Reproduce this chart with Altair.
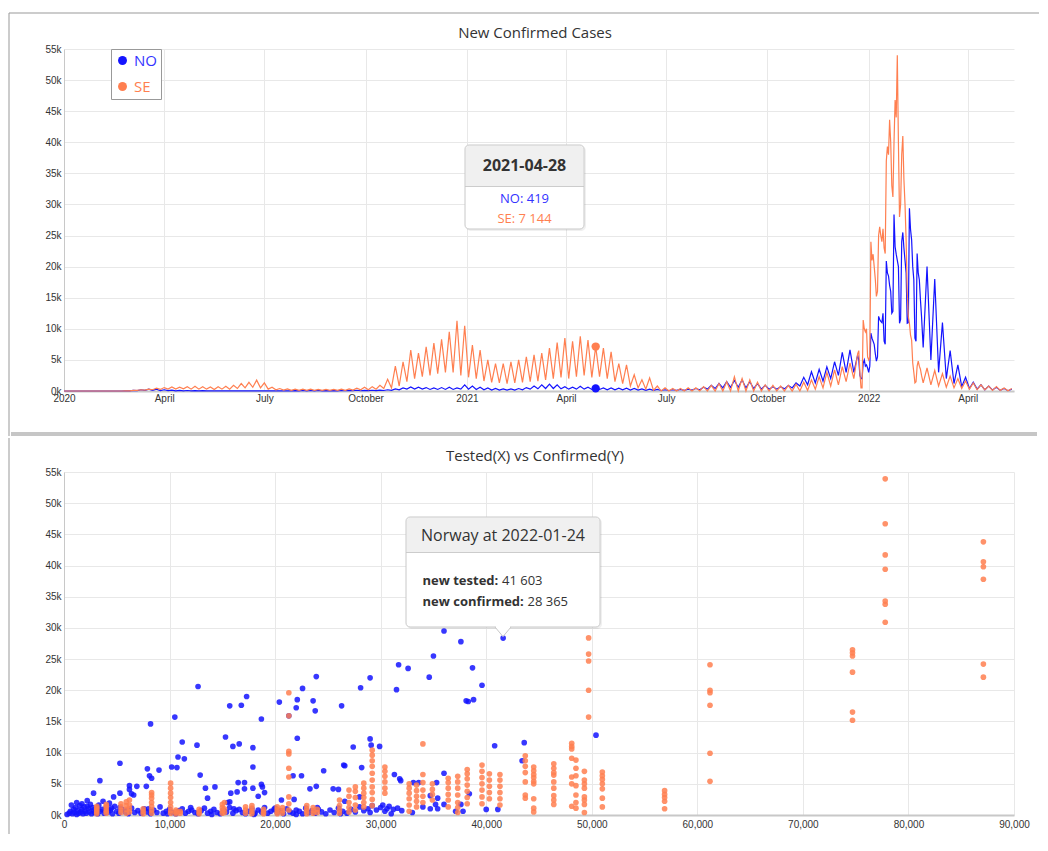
import altair as alt
import pandas as pd

# ---------------- Top chart: daily new confirmed cases ----------------
countries = ["NO", "SE"]
country_colors = ["#1414ff", "#ff7f50"]

# Segment A: points every 84 h from Wed 2020-01-01 (alternating mid-week peak / weekend trough)
NO_A = [
    0, 0, 0, 0, 0, 0, 0, 0, 0, 0, 0, 0, 0, 0, 0,
    0, 10, 20, 100, 50, 200, 100, 300, 100, 300, 50, 200, 50, 150, 30, 100, 20, 80, 20, 60,
    10, 50, 10, 40, 10, 30, 10, 20, 10, 20, 10, 20, 10, 20, 10, 20, 10, 20, 10, 20,
    10, 20, 10, 30, 20, 50, 30, 80, 30, 80, 30, 80, 30, 70, 30, 60, 30, 80, 40, 100,
    40, 120, 40, 100, 50, 120, 60, 150, 80, 200, 100, 350, 200, 500, 300, 650, 300, 600, 300, 550,
    250, 500, 250, 550, 250, 600, 250, 500, 300, 1000, 300, 800, 250, 600, 200, 500, 150, 400, 150, 350,
    150, 350, 150, 400, 200, 550, 300, 800, 350, 1000, 400, 1100, 400, 1000, 350, 700, 300, 600, 300, 750,
    300, 600, 250, 419, 250, 500, 200, 500, 200, 450, 200, 450, 150, 400, 150, 350, 100, 300, 100, 250,
    80, 200, 80, 200, 100, 250, 100, 300, 150, 400, 200, 600, 300, 900, 400, 1200, 500, 1500, 600, 1700,
    600, 1800, 500, 1500, 400, 1200, 300, 900, 300, 700, 300, 700, 350, 900, 500, 1300, 800, 2200, 1000, 3100,
    1300, 3500, 1600, 3900, 2000, 4700, 2500, 6200, 3000, 6600, 3000, 5800,
]
SE_A = [
    0, 0, 0, 0, 0, 0, 0, 0, 0, 0, 0, 0, 0, 0, 0,
    0, 10, 20, 100, 100, 200, 150, 300, 200, 450, 250, 550, 300, 650, 300, 600, 350, 700, 300, 750,
    300, 700, 300, 650, 250, 700, 300, 750, 300, 900, 400, 1200, 500, 1400, 600, 1750, 500, 1300, 300, 600,
    200, 400, 150, 350, 100, 300, 100, 300, 100, 300, 100, 250, 100, 250, 100, 250, 100, 300, 100, 350,
    150, 450, 200, 600, 200, 700, 300, 900, 400, 1900, 500, 4000, 800, 4700, 1500, 6600, 2000, 6100, 2300, 7100,
    2500, 7700, 2800, 8300, 3000, 9500, 3000, 11300, 2500, 10500, 2200, 7400, 2000, 6600, 1600, 5000, 1400, 4400, 1300, 4400,
    1200, 4700, 1300, 5000, 1400, 5500, 1500, 5800, 1600, 6100, 1800, 6900, 2000, 7800, 2200, 8500, 2000, 8000, 2300, 8800,
    2500, 8200, 2200, 7144, 2300, 6900, 2000, 6300, 1500, 4400, 1200, 4200, 800, 2600, 500, 1800, 300, 2100, 100, 800,
    0, 500, 0, 400, 0, 400, 0, 500, 0, 500, 0, 700, 0, 900, 0, 1200, 0, 1500, 0, 2300,
    0, 2000, 0, 1800, 0, 1400, 0, 1000, 0, 900, 0, 800, 0, 900, 0, 1100, 0, 1400, 100, 1800,
    300, 2300, 500, 3000, 800, 3400, 1000, 3900, 1500, 4500, 2000, 6000,
]
# Segment B: daily values 2021-12-23 .. 2022-02-18
NO_B = [
    5000, 2500, 2000, 2000, 4500, 5000, 4000, 4200, 3700,
    3000, 4000, 9300, 8500, 8000, 7500, 6000, 4800, 5500, 12000, 11500, 11200, 11000, 12500, 8000, 7500,
    20900, 19000, 18500, 17000, 16000, 12500, 12800, 28365, 23200, 22000, 21000, 20000, 10900, 11500, 24000,
    25500, 23000, 21000, 19000, 10900, 11000, 29400, 26000, 24300, 20000, 17900, 8500, 8000, 22100, 19000,
    17900, 14700, 12000,
]
SE_B = [
    6500, 3000, 500, 500, 11400, 10000, 9500, 10000, 5500,
    5000, 5500, 24000, 21000, 22000, 20000, 18000, 15200, 16000, 25000, 26400, 25000, 24000, 26100, 23000, 22100,
    37000, 39300, 38000, 43600, 40000, 33000, 31200, 40000, 46800, 44000, 54000, 40000, 28000, 30000, 38000,
    41000, 34000, 30000, 24300, 16000, 12000, 10900, 9000, 8200, 4500, 3000, 1300, 1500, 4000, 4800,
    4000, 3500, 2500,
]
# Segment C: every 84 h from Sat 2022-02-19 12:00 (trough / peak)
NO_C = [7000, 20000, 5000, 18000, 3000, 11000, 2000, 6500, 1200, 4200, 700, 2200,
        400, 1400, 300, 1000, 200, 800, 150, 600, 100, 400, 50, 300]
SE_C = [1300, 3700, 1000, 3300, 800, 2800, 600, 2400, 500, 2000, 400, 1600,
        300, 1300, 200, 1000, 200, 800, 100, 700, 100, 500, 50, 400]

marker_date = "2021-04-28T00:00:00"
marker_values = [419, 7144]

y_ticks = [0, 5000, 10000, 15000, 20000, 25000, 30000, 35000, 40000, 45000, 50000, 55000]
x_ticks_scatter = [0, 10000, 20000, 30000, 40000, 50000, 60000, 70000, 80000, 90000]

# ---------------- Bottom chart: tested vs confirmed ----------------
no_points = [
    (36000, 29500), (41603, 28365), (37600, 27800), (35000, 25500), (31700, 24100), (32600, 23500),
    (38700, 23600), (34600, 22100), (23900, 22200), (39600, 20800), (29000, 22000), (28100, 20400),
    (31500, 20100), (22600, 20300), (12700, 20600), (20400, 18100), (22100, 18500), (23600, 18300),
    (38100, 18300), (38300, 18200), (38800, 18500), (17300, 19000), (15700, 17500), (16800, 17600),
    (22000, 17200), (23800, 16700), (26300, 17500), (21300, 15900), (10500, 15700), (18700, 15400),
    (8200, 14600), (22100, 12300), (15300, 12500), (16000, 11000), (16600, 11400), (17900, 10800),
    (12600, 11200), (11200, 11700), (29000, 12200), (29100, 11200), (29900, 11000), (27400, 10900),
    (40800, 11100), (43600, 11600), (43400, 8700), (50400, 12800),
    (10800, 9300), (11400, 9000), (10200, 7700), (10700, 7600), (5300, 8300), (7900, 7400), (9000, 7200),
    (8100, 6300), (8300, 5900), (12900, 6400), (17900, 7700), (26500, 8000), (26600, 7900), (24600, 7100),
    (28200, 7600), (21700, 6300), (22500, 6300), (36000, 6700), (31300, 6500),
    (3400, 5500), (2800, 3500), (5300, 3500), (4700, 2900), (6200, 4700), (6900, 4600), (7800, 4600),
    (6200, 4100), (6400, 3400), (6600, 3200), (2200, 2300), (3700, 2200), (4300, 1900), (13400, 4300),
    (14300, 4500), (13600, 2700), (15800, 3500), (16400, 3700), (16500, 5200), (17100, 5200), (17100, 4200),
    (17900, 4300), (18700, 4900), (18800, 4500), (19000, 3600), (18400, 3000), (15500, 2000), (15700, 2100),
    (20600, 2400), (23300, 4200), (23900, 4600), (25500, 4200), (26000, 4100), (21800, 2500), (26600, 2200),
    (28000, 2900), (31900, 5500), (31800, 5800), (33100, 5200), (33600, 5200), (35300, 5200), (34700, 3100),
    (35400, 2700), (35200, 1700), (36000, 1700), (34700, 1000), (35400, 1000), (37100, 600), (37600, 1700),
    (37800, 600), (38400, 3400), (40000, 900), (41100, 900),
]
no_band = [
    (300, 100), (500, 300), (600, 600), (800, 200), (900, 900), (1000, 400), (1100, 1200), (1200, 100),
    (1300, 700), (1400, 300), (1500, 1500), (1600, 500), (1700, 900), (1800, 200), (1900, 1300), (2000, 600),
    (2100, 300), (2300, 1000), (2400, 500), (2500, 1700), (2600, 200), (2800, 800), (2900, 400), (3100, 1100),
    (3200, 200), (3400, 600), (3600, 900), (3800, 300), (4000, 1200), (4200, 500), (4400, 800), (4600, 200),
    (4800, 1400), (5000, 600), (5200, 300), (5500, 900), (5800, 500), (6100, 200), (6400, 1100), (6700, 400),
    (7000, 700), (7300, 300), (7600, 1000), (7900, 500), (8200, 200), (8500, 800), (8800, 400), (9100, 1300),
    (9400, 300), (9700, 600), (10000, 900), (10300, 400), (10600, 200), (10900, 700), (11200, 1000), (11500, 300),
    (11800, 600), (12100, 800), (12400, 400), (12700, 200), (13000, 700), (13300, 1100), (13600, 300), (13900, 600),
    (14200, 900), (14500, 400), (14800, 200), (15100, 800), (15400, 500), (15700, 1200), (16000, 300), (16300, 700),
    (16600, 900), (16900, 400), (17200, 200), (17500, 600), (17800, 1000), (18100, 300), (18400, 800), (18700, 500),
    (19000, 1200), (19300, 300), (19600, 600), (19900, 900), (20200, 400), (20500, 700), (20800, 200), (21100, 1000),
    (21400, 500), (21700, 300), (22000, 800), (22300, 600), (22600, 200), (22900, 1100), (23200, 400), (23500, 700),
    (23800, 300), (24100, 900), (24400, 500), (24800, 200), (25200, 800), (25600, 400), (26000, 1100), (26400, 600),
    (26800, 300), (27200, 900), (27600, 500), (28000, 1300), (28400, 700), (28800, 1000), (29200, 1500), (29600, 800),
    (30000, 1200), (30400, 600), (30800, 1400), (31200, 900), (31600, 1100), (32000, 700), (33000, 400), (34000, 1300),
    (700, 1600), (1200, 2000), (1700, 1800), (2200, 1400), (2700, 1200), (3300, 1600), (3900, 700), (4500, 1100),
    (5300, 1200), (6000, 800), (8000, 1000), (9800, 200), (12000, 1200), (14000, 100), (16100, 1000), (18000, 100),
    (20000, 1100), (22000, 100), (24000, 1200), (26200, 200), (29000, 400), (30200, 1600), (31000, 200), (30600, 1000),
]
se_col_tested = [3100, 4000, 5400, 5900, 6200, 7500, 8300, 10100, 10600, 11000, 12800, 15000, 15200, 17200,
                 17800, 18900, 20200, 20700, 21300, 23000, 23600, 24000, 26100, 27000, 27600, 28400, 29200,
                 30400, 32700, 33400, 34000, 34900, 36400, 37300, 38200, 39600, 40300, 41300, 43700, 44500,
                 46400, 48100, 48500, 49300, 49700, 51000, 56900, 61200, 74700, 77800, 87100]
se_col_confirmed = [
    [200, 500, 800, 1100, 1400], [300, 600, 1000, 1400, 1700], [400, 800, 1300, 1800], [300, 900, 1500, 2100],
    [500, 1000, 1600, 2400], [200, 600, 1000], [300, 800, 1400, 2000, 2700, 3200, 3600],
    [300, 700, 1300, 2000, 2800, 3500, 4300, 5100], [200, 500, 800], [300, 600], [200, 500, 900],
    [300, 700, 1200, 1700], [400, 1000, 2000], [300, 800, 1300], [200, 600, 1100, 1500], [200, 500, 900],
    [200, 500, 900, 1300], [300, 700, 1200], [800, 1800, 2900, 6100, 7500, 9800, 10200, 15900, 19600],
    [200, 600, 1000, 1500], [300, 700, 1200], [400, 900], [300, 800, 1500, 2400], [500, 1200, 2000, 3000, 4000],
    [800, 1600, 2800, 3800, 4500], [1300, 2000, 2800, 3500, 4300, 5100],
    [1500, 2500, 3600, 4500, 5600, 6700, 7800, 8700, 9600, 10400], [3500, 4300, 5300, 6200, 7000, 7700],
    [600, 1600, 2600, 3500, 4300, 5000], [1300, 2200, 3000, 3900, 4800], [2000, 3000, 4000, 5200, 6500, 11400],
    [2400, 3300, 4100, 5000], [1300, 2400, 3300, 4300, 5200, 5900], [400, 1200, 2000, 3200, 4300, 5300, 6200],
    [1800, 2800, 3800, 4800, 5800, 6600, 7300], [1800, 2900, 4000, 5000, 6000, 7000, 8000],
    [2600, 3600, 4600, 5600, 6600], [1600, 2600, 3600, 4600, 5600, 6500], [2700, 3200, 5300, 6800, 7800, 8700, 9500],
    [500, 1100, 2600, 5000, 5400, 6000, 6500, 7100, 7700], [1700, 2400, 3100, 4300, 5300, 6400, 6800, 7500, 8200],
    [1400, 5000, 6100, 9100, 10600, 11000, 11500], [1100, 2000, 3200, 4700, 6300, 7500, 8800],
    [400, 1700, 2400, 2900, 4300, 5000, 5600, 7000], [15700, 20000, 24700, 25800, 28400],
    [1300, 2700, 4200, 5000, 5700, 6300, 6900], [1000, 2200, 2800, 3300, 3900],
    [5400, 9900, 17600, 19600, 20000, 24100], [15200, 16500, 22900, 25500, 26000, 26500],
    [30900, 33800, 34300, 39400, 41700, 46700, 53900], [22100, 24200, 37800, 39800, 40600, 43800],
]

# ---------------- build tables ----------------
fmt = "%Y-%m-%dT%H:%M:%S"
dates_a = pd.date_range("2020-01-01 00:00", periods=len(NO_A), freq="84h")
dates_b = pd.date_range("2021-12-23 00:00", periods=len(NO_B), freq="D")
dates_c = pd.date_range("2022-02-19 12:00", periods=len(NO_C), freq="84h")
all_dates = [d.strftime(fmt) for d in list(dates_a) + list(dates_b) + list(dates_c)]
line_rows = []
for c, vals in (("NO", NO_A + NO_B + NO_C), ("SE", SE_A + SE_B + SE_C)):
    for d, v in zip(all_dates, vals):
        line_rows.append({"date": d, "country": c, "value": v})
df_lines = pd.DataFrame(line_rows)
df_marker = pd.DataFrame({"date": [marker_date, marker_date], "country": countries, "value": marker_values})

sc_rows = [{"tested": x, "confirmed": y, "country": "NO"} for x, y in no_band + no_points]
for x, ys in zip(se_col_tested, se_col_confirmed):
    for y in ys:
        sc_rows.append({"tested": x, "confirmed": y, "country": "SE"})
df_scatter = pd.DataFrame(sc_rows)

color_scale = alt.Scale(domain=countries, range=country_colors)
one = pd.DataFrame({"k": [0]})


def rule(x, x2, y, y2, color, width):
    return alt.Chart(one).mark_rule(color=color, strokeWidth=width).encode(
        x=alt.value(x), x2=alt.value(x2), y=alt.value(y), y2=alt.value(y2))


def rect(x, x2, y, y2, **kw):
    return alt.Chart(one).mark_rect(**kw).encode(
        x=alt.value(x), x2=alt.value(x2), y=alt.value(y), y2=alt.value(y2))


def label(t, x, y, **kw):
    return alt.Chart(pd.DataFrame({"t": [t]})).mark_text(**kw).encode(
        x=alt.value(x), y=alt.value(y), text="t:N")


axis_common = dict(title=None, ticks=False, tickSize=0, labelFont="Liberation Sans", labelFontSize=10,
                   labelColor="#333", gridColor="#e8e8e8", domainColor="#c8c8c8")


def y_axis():
    return alt.Axis(values=y_ticks, labelExpr="datum.value / 1000 + 'k'", labelPadding=3,
                    labelOverlap=False, **axis_common)


# ---------------- top chart ----------------
x_top = alt.X("date:T",
              scale=alt.Scale(domain=[alt.DateTime(year=2020, month=1, date=1),
                                      alt.DateTime(year=2022, month=5, date=13)]),
              axis=alt.Axis(tickCount={"interval": "month", "step": 3}, labelFlush=False, labelPadding=2,
                            domainWidth=2, **axis_common))
y_top = alt.Y("value:Q", scale=alt.Scale(domain=[0, 55000], nice=False), axis=y_axis())

top_legend = alt.Legend(title=None, orient="none", legendX=47, legendY=0,
                        fillColor="white", strokeColor="#999", padding=4,
                        symbolType="circle", symbolSize=80, symbolStrokeWidth=0,
                        symbolFillColor={"expr": "datum.value == 'NO' ? '#0a0aff' : '#ff7f50'"},
                        symbolOpacity=1,
                        labelFont="Open Sans", labelFontSize=15, labelOffset=4, rowPadding=10,
                        labelColor={"expr": "datum.label == 'NO' ? '#3333ff' : '#ff7f50'"})

lines = alt.Chart(df_lines).mark_line(strokeWidth=1.2).encode(
    x=x_top, y=y_top, color=alt.Color("country:N", scale=color_scale, legend=top_legend))
markers = alt.Chart(df_marker).mark_circle(size=70, opacity=1).encode(
    x=x_top, y=y_top, color=alt.Color("country:N", scale=color_scale, legend=top_legend))

tip_top = [
    rect(402, 522, 97, 182, color="#000", opacity=0.06, cornerRadius=5),
    rect(401, 520, 96, 180, color="white", cornerRadius=4),
    rect(401.5, 519.5, 96.5, 137.5, color="#f0f0f0", cornerRadiusTopLeft=4, cornerRadiusTopRight=4),
    rule(401, 520, 137.5, 137.5, "#cccccc", 1),
    rect(401, 520, 96, 180, fillOpacity=0, stroke="#c8c8c8", strokeWidth=1, cornerRadius=4),
    label("2021-04-28", 460.5, 117, font="Open Sans", fontSize=16, fontWeight="bold", color="#333",
          align="center", baseline="middle"),
    label("NO: 419", 460.5, 149.5, font="Open Sans", fontSize=13, color="#3333ff", align="center",
          baseline="middle"),
    label("SE: 7 144", 460.5, 169.5, font="Open Sans", fontSize=13, color="#ff7f50", align="center",
          baseline="middle"),
]
decor_top = [
    rule(-55, 975, -36, -36, "#999", 1),
    rule(-55, -55, -36, 387, "#999", 1),
    rule(-53, 973, 385, 385, "#c6c6c6", 4),
    label("New Confirmed Cases", 471, -16, font="Open Sans", fontSize=15, color="#333", align="center",
          baseline="middle"),
]
top = alt.layer(lines, markers, *tip_top, *decor_top).properties(width=950, height=342)

# ---------------- bottom chart ----------------
points = alt.Chart(df_scatter).mark_circle(size=32, opacity=0.85).encode(
    x=alt.X("tested:Q", scale=alt.Scale(domain=[0, 90000], nice=False),
            axis=alt.Axis(values=x_ticks_scatter, format=",d", labelFlush=False, labelPadding=4,
                          domainWidth=2, **axis_common)),
    y=alt.Y("confirmed:Q", scale=alt.Scale(domain=[0, 55000], nice=False), axis=y_axis()),
    color=alt.Color("country:N", scale=color_scale, legend=None))

tip_bottom = [
    rect(343, 538, 46, 157, color="#000", opacity=0.06, cornerRadius=5),
    rect(342, 536, 45, 155, color="white", cornerRadius=4),
    rect(342.5, 535.5, 45.5, 80.5, color="#f0f0f0", cornerRadiusTopLeft=4, cornerRadiusTopRight=4),
    rule(342, 536, 80.5, 80.5, "#cccccc", 1),
    rect(342, 536, 45, 155, fillOpacity=0, stroke="#c8c8c8", strokeWidth=1, cornerRadius=4),
    alt.Chart(one).mark_point(shape="M-1,-0.6L0,0.6L1,-0.6", size=256, filled=True, fill="white",
                              stroke="#c8c8c8", strokeWidth=1, opacity=1).encode(
        x=alt.value(439), y=alt.value(159.8)),
    rule(432, 446, 154.6, 154.6, "white", 2),
    label("Norway at 2022-01-24", 439, 64, font="Open Sans", fontSize=16, color="#333", align="center",
          baseline="middle"),
    label("new tested:", 358.5, 109, font="Open Sans", fontSize=13, fontWeight="bold", color="#333",
          align="left", baseline="middle"),
    label("41 603", 438, 109, font="Open Sans", fontSize=13, color="#333", align="left", baseline="middle"),
    label("new confirmed:", 358.5, 129.5, font="Open Sans", fontSize=13, fontWeight="bold", color="#333",
          align="left", baseline="middle"),
    label("28 365", 463.5, 129.5, font="Open Sans", fontSize=13, color="#333", align="left",
          baseline="middle"),
]
decor_bottom = [
    rule(-55, -55, -34, 362, "#999", 1),
    label("Tested(X) vs Confirmed(Y)", 471, -16, font="Open Sans", fontSize=15, color="#333",
          align="center", baseline="middle"),
]
bottom = alt.layer(points, *tip_bottom, *decor_bottom).properties(width=950, height=343)

chart = alt.vconcat(top, bottom, spacing=0).resolve_scale(
    x="independent", y="independent", color="independent"
).properties(
    padding={"left": 0, "top": 4, "right": 0, "bottom": 0}
).configure_view(strokeWidth=0)

chart.save("out.html", embed_options={"renderer": "svg", "actions": False})
